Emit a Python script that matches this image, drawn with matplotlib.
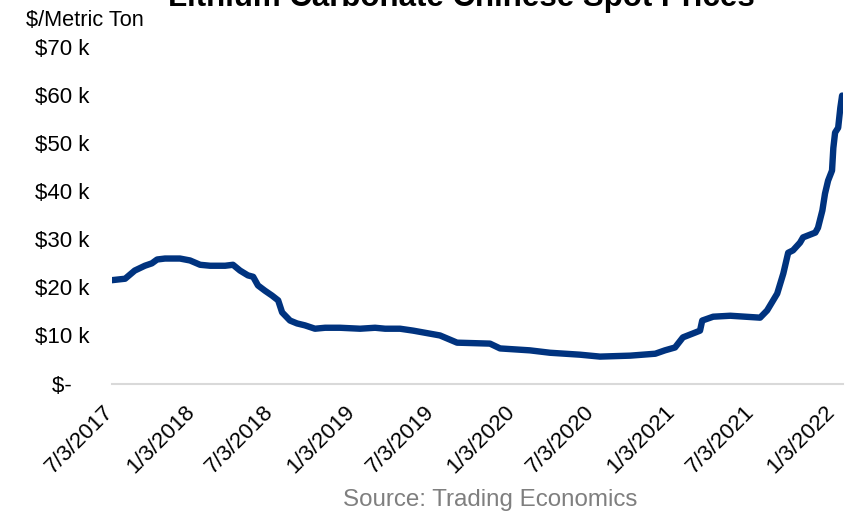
"Lithium carbonate chinese spot prices chart"

import matplotlib
matplotlib.use("Agg")
import matplotlib.pyplot as plt
import matplotlib.ticker as mticker
import matplotlib.transforms as mtransforms
import pandas as pd

# Price readings ($/metric ton) taken off the chart
dates = [
    "2017-07-03", "2017-08-02", "2017-08-24", "2017-09-16", "2017-10-02",
    "2017-10-14", "2017-11-01", "2017-12-05", "2017-12-28", "2018-01-20",
    "2018-02-12", "2018-03-18", "2018-04-05", "2018-04-21", "2018-05-09",
    "2018-05-21", "2018-06-01", "2018-06-17", "2018-07-03", "2018-07-17",
    "2018-07-26", "2018-08-13", "2018-08-29", "2018-09-16", "2018-10-09",
    "2018-11-01", "2018-12-05", "2019-01-20", "2019-02-23", "2019-03-18",
    "2019-04-21", "2019-05-21", "2019-07-21", "2019-08-29", "2019-11-12",
    "2019-12-05", "2020-02-11", "2020-03-28", "2020-06-04", "2020-07-20",
    "2020-09-27", "2020-11-23", "2020-12-15", "2021-01-07", "2021-01-25",
    "2021-02-22", "2021-03-05", "2021-03-10", "2021-04-04", "2021-05-13",
    "2021-07-20", "2021-08-05", "2021-08-28", "2021-09-11", "2021-09-22",
    "2021-10-03", "2021-10-19", "2021-10-26", "2021-11-23", "2021-11-29",
    "2021-12-09", "2021-12-15", "2021-12-22", "2021-12-31", "2022-01-03",
    "2022-01-07", "2022-01-14", "2022-01-19", "2022-01-23", "2022-01-25",
]
prices = [
    21500, 21800, 23500, 24500, 25000,
    25800, 26000, 26000, 25600, 24700,
    24500, 24500, 24700, 23500, 22500,
    22200, 20400, 19300, 18300, 17300,
    14800, 13100, 12500, 12100, 11400,
    11600, 11600, 11400, 11600, 11400,
    11400, 11000, 10000, 8500, 8300,
    7300, 6900, 6400, 6000, 5600,
    5800, 6200, 6900, 7500, 9600,
    10600, 11000, 13100, 13900, 14100,
    13700, 15200, 18700, 22900, 27200,
    27700, 29300, 30400, 31400, 32400,
    36000, 39500, 42200, 44300, 49000,
    52200, 53200, 57400, 59900, 58800,
]

tick_dates = ["2017-07-03", "2018-01-03", "2018-07-03", "2019-01-03",
              "2019-07-03", "2020-01-03", "2020-07-03", "2021-01-03",
              "2021-07-03", "2022-01-03"]
tick_labels = ["7/3/2017", "1/3/2018", "7/3/2018", "1/3/2019", "7/3/2019",
               "1/3/2020", "7/3/2020", "1/3/2021", "7/3/2021", "1/3/2022"]

plt.rcParams["font.family"] = ["Liberation Sans", "DejaVu Sans"]

fig = plt.figure(figsize=(8.54, 5.15), dpi=100)
ax = fig.add_axes([0.1311, 0.2553, 0.8560, 0.6534])

ax.plot(pd.to_datetime(dates), prices, color="#00337F", linewidth=4.6,
        solid_capstyle="round", solid_joinstyle="round")

ax.set_ylim(0, 70000)
ax.set_yticks(range(0, 70001, 10000))


def money(v, pos):
    # Excel accounting style: zero shows as a dash
    if v == 0:
        return "$-   "
    return "${} k".format(int(round(v / 1000)))


ax.yaxis.set_major_formatter(mticker.FuncFormatter(money))
ax.set_xlim(pd.Timestamp("2017-07-03"), pd.Timestamp("2022-01-25"))
ax.set_xticks(pd.to_datetime(tick_dates))
ax.set_xticklabels(tick_labels, rotation=45, ha="right", va="top")

ax.tick_params(axis="both", length=0, labelsize=16)
ax.tick_params(axis="y", pad=16)
ax.tick_params(axis="x", pad=13)

# nudge the rotated date labels so they end at their tick
shift = mtransforms.ScaledTranslation(6 / 100, 0, fig.dpi_scale_trans)
for lbl in ax.get_xticklabels():
    lbl.set_transform(lbl.get_transform() + shift)

for side in ["top", "right", "left"]:
    ax.spines[side].set_visible(False)
ax.spines["bottom"].set_color("#D9D9D9")
ax.spines["bottom"].set_linewidth(1.5)

fig.text(0.54, 1 - 6 / 515, "Lithium Carbonate Chinese Spot Prices",
         ha="center", va="baseline", fontsize=22.5, fontweight="bold")
fig.text(0.031, 1 - 20 / 515, "$/Metric Ton", ha="left", va="center",
         fontsize=15.7)
fig.text(0.574, 1 - 500 / 515, "Source: Trading Economics", ha="center",
         va="center", fontsize=17.4, color="#7F7F7F")

fig.savefig("out.png", dpi=100)
